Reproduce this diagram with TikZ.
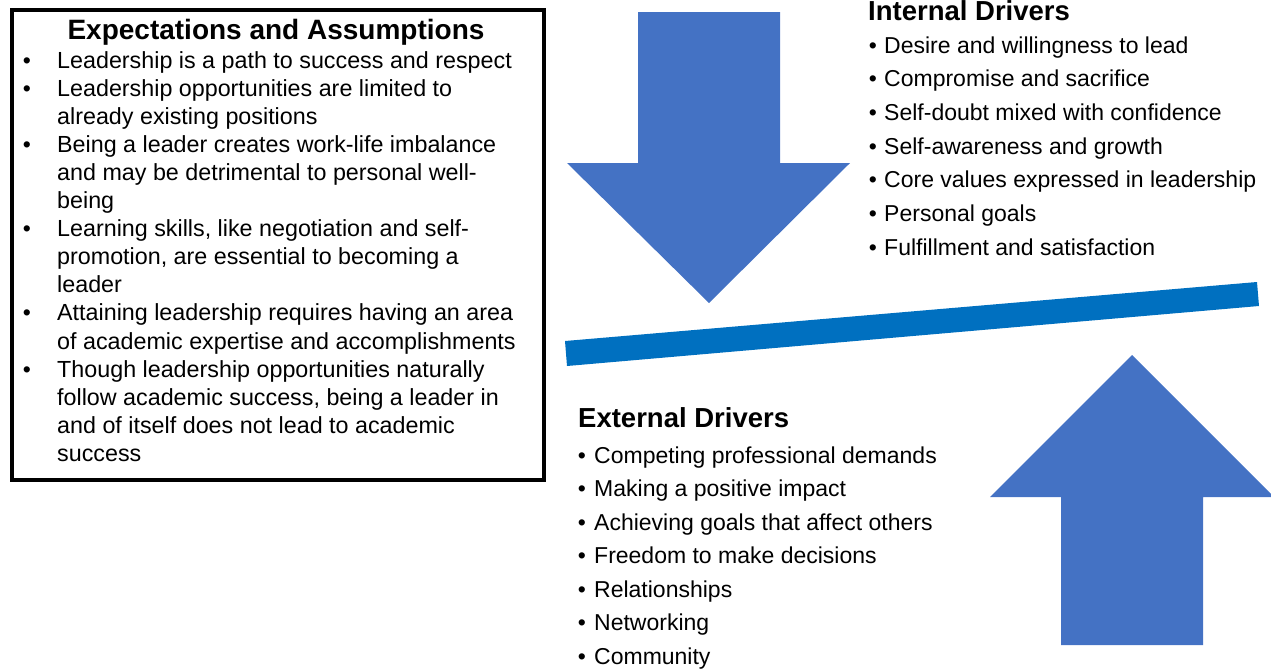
\documentclass[tikz,border=0pt]{standalone}
\usepackage{fontspec}
\setmainfont{Liberation Sans}
\definecolor{arrowblue}{HTML}{4472C4}
\definecolor{beamblue}{HTML}{0070C0}
\begin{document}
\begin{tikzpicture}[x=1pt,y=-1pt,
  body/.style={anchor=base west, inner sep=0pt, font=\fontsize{23}{28}\selectfont},
  boxbody/.style={anchor=base west, inner sep=0pt, font=\fontsize{23.3}{28}\selectfont},
  dot/.style={anchor=base, inner sep=0pt, font=\fontsize{23}{28}\selectfont},
  heading/.style={anchor=base west, inner sep=0pt, font=\fontsize{27.5}{32}\selectfont\bfseries},
  frame/.style={draw=black, line width=3.5pt, fill=white, inner sep=0pt},
]
\useasboundingbox (0,0) rectangle (1271,670);

% framed box of expectations and assumptions
\node[frame, anchor=north west, minimum width=532pt, minimum height=470pt] (box) at (10,8) {};
\node[anchor=base, inner sep=0pt, font=\fontsize{28}{32}\selectfont\bfseries] (boxtitle) at (276,39) {Expectations and Assumptions};
\foreach \t [count=\i] in {
  Leadership is a path to success and respect,
  Leadership opportunities are limited to,
  already existing positions,
  Being a leader creates work-life imbalance,
  and may be detrimental to personal well-,
  being,
  {Learning skills, like negotiation and self-},
  {promotion, are essential to becoming a},
  leader,
  Attaining leadership requires having an area,
  of academic expertise and accomplishments,
  Though leadership opportunities naturally,
  {follow academic success, being a leader in},
  and of itself does not lead to academic,
  success}
  \node[boxbody] (boxline\i) at (57,{68+28.1*(\i-1)}) {\t};
\foreach \i in {1,2,4,7,10,12}
  \node[dot] (boxdot\i) at (27,{68+28.1*(\i-1)}) {•};

% downward arrow
\fill[arrowblue] (638,12) -- (780,12) -- (780,163) -- (850,163) -- (709,303)
  -- (567,163) -- (638,163) -- cycle;

% tilted beam
\fill[beamblue] (565,341) -- (1257,282) -- (1259,306) -- (567,366) -- cycle;

% upward arrow
\fill[arrowblue] (1132,355) -- (1274,497) -- (1203,497) -- (1203,645)
  -- (1061,645) -- (1061,497) -- (990,497) -- cycle;

% internal drivers
\node[heading] (inthead) at (868,20) {Internal Drivers};
\foreach \t [count=\i] in {
  Desire and willingness to lead,
  Compromise and sacrifice,
  Self-doubt mixed with confidence,
  Self-awareness and growth,
  Core values expressed in leadership,
  Personal goals,
  Fulfillment and satisfaction}
{
  \node[dot] (intdot\i) at (873,{53+33.67*(\i-1)}) {•};
  \node[body] (intline\i) at (884,{53+33.67*(\i-1)}) {\t};
}

% external drivers
\node[heading] (exthead) at (578,427) {External Drivers};
\foreach \t [count=\i] in {
  Competing professional demands,
  Making a positive impact,
  Achieving goals that affect others,
  Freedom to make decisions,
  Relationships,
  Networking,
  Community}
{
  \node[dot] (extdot\i) at (582,{463+33.5*(\i-1)}) {•};
  \node[body] (extline\i) at (594,{463+33.5*(\i-1)}) {\t};
}
\end{tikzpicture}
\end{document}
